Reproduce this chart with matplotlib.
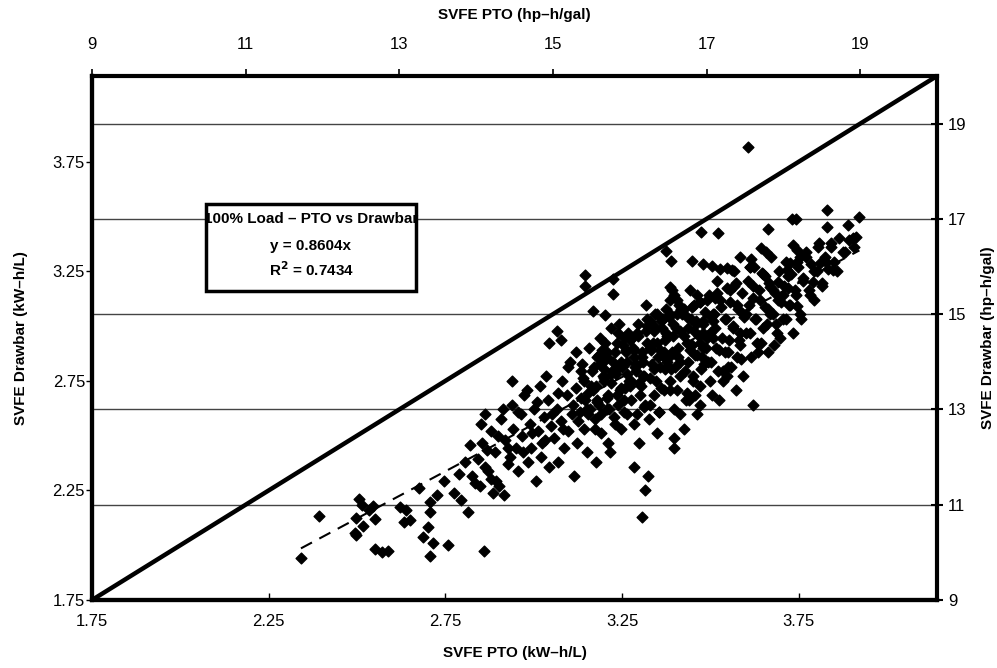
import matplotlib
matplotlib.use("Agg")
import matplotlib.pyplot as plt
from matplotlib.patches import Rectangle
import numpy as np

plt.rcParams['font.family'] = ['Liberation Sans', 'DejaVu Sans']

# SVFE values in hp-h/gal (PTO on x, drawbar on y)
pto_hp = [
    11.72, 11.96, 12.42, 12.44, 12.69, 12.77, 12.85, 12.47, 12.52, 12.60, 12.44, 12.53,
    12.68, 12.66, 13.01, 13.09, 13.06, 13.14, 13.26, 13.31, 13.40, 13.40, 13.38, 13.44,
    13.40, 13.49, 13.58, 13.64, 13.71, 13.80, 13.90, 14.05, 14.10, 13.95, 14.12, 14.20,
    14.26,
    14.02, 14.08, 14.15, 14.20, 14.25, 14.30, 14.33, 14.38, 14.42, 14.47, 14.48, 14.12,
    14.36, 14.44,
    14.52, 14.55, 14.58, 14.60, 14.63, 14.67, 14.70, 14.72, 14.75, 14.78, 14.80, 14.83,
    14.85, 14.88, 14.90, 14.93, 14.95, 14.97,
    15.02, 15.05, 15.07, 15.10, 15.12, 15.15, 15.18, 15.20, 15.22, 15.25, 15.27, 15.30,
    15.32, 15.35, 15.37, 15.40, 15.42, 15.45, 15.47, 15.48, 15.10, 15.30,
    15.42, 15.42, 15.78, 15.78, 15.52, 15.68,
    15.52, 15.55, 15.58, 15.60, 15.62, 15.65, 15.68, 15.70, 15.72, 15.75, 15.78, 15.80,
    15.83, 15.85, 15.88, 15.90, 15.92, 15.95, 15.97, 15.99, 15.56, 15.66, 15.74, 15.86,
    15.94, 15.60, 15.70, 15.82,
    16.02, 16.04, 16.06, 16.08, 16.10, 16.12, 16.15, 16.17, 16.20, 16.22, 16.25, 16.27,
    16.30, 16.32, 16.35, 16.37, 16.40, 16.42, 16.45, 16.47, 16.16, 16.20, 16.05, 16.28,
    16.38, 16.12, 16.33, 16.44, 16.24, 16.08,
    16.52, 16.55, 16.57, 16.60, 16.62, 16.65, 16.67, 16.70, 16.72, 16.75, 16.77, 16.80,
    16.82, 16.85, 16.87, 16.90, 16.92, 16.95, 16.97, 16.99, 16.53, 16.57, 16.47, 16.54,
    16.64, 16.74, 16.84, 16.94, 16.58, 16.88,
    17.02, 17.05, 17.07, 17.10, 17.12, 17.15, 17.18, 17.20, 17.22, 17.25, 17.28, 17.30,
    17.32, 17.35, 17.38, 17.40, 17.42, 17.45, 17.48, 17.08, 17.26, 17.36, 17.16, 17.44,
    16.93, 17.15, 17.61, 16.92,
    17.52, 17.55, 17.58, 17.60, 17.63, 17.66, 17.70, 17.73, 17.76, 17.80, 17.83, 17.86,
    17.90, 17.93, 17.96, 17.54, 17.71, 17.44, 17.57, 17.72, 17.80, 17.80, 17.83, 17.93,
    18.00, 18.03, 18.06, 18.09, 18.12, 18.15, 18.18, 18.22, 18.26, 18.30, 18.35, 18.40,
    18.45, 18.50, 18.55, 18.62, 18.70, 18.80, 18.90,
    18.11, 18.16, 18.57, 18.99, 18.57, 18.84, 18.95, 18.18, 18.22, 18.09, 18.05, 18.48,
    18.64, 18.38, 18.18, 18.06, 16.47, 16.54, 17.27, 17.33, 17.57, 17.07, 16.96, 16.81,
    16.53, 16.57,
    # denser part of the cloud
    15.53, 15.57, 15.61, 15.63, 15.67, 15.71, 15.73, 15.77, 15.81, 15.84, 15.87, 15.89,
    15.93, 15.96, 15.98, 15.55, 15.65, 15.75, 15.85, 15.95,
    16.01, 16.03, 16.07, 16.09, 16.11, 16.14, 16.16, 16.19, 16.21, 16.23, 16.26, 16.29,
    16.31, 16.34, 16.36, 16.39, 16.41, 16.43, 16.46, 16.48, 16.06, 16.18, 16.27, 16.38,
    16.44,
    16.51, 16.53, 16.56, 16.59, 16.61, 16.63, 16.66, 16.68, 16.71, 16.73, 16.76, 16.78,
    16.81, 16.83, 16.86, 16.88, 16.91, 16.93, 16.96, 16.98, 16.55, 16.65, 16.75, 16.85,
    16.95,
    17.01, 17.03, 17.06, 17.09, 17.11, 17.14, 17.16, 17.19, 17.21, 17.24, 17.26, 17.29,
    17.31, 17.34, 17.36, 17.39, 17.41, 17.44, 17.46, 17.49, 17.05, 17.18, 17.28, 17.38,
    17.47,
    17.51, 17.54, 17.57, 17.60, 17.62, 17.65, 17.68, 17.71, 17.73, 17.76, 17.79, 17.81,
    17.84, 17.87, 17.89, 17.92, 17.94, 17.97, 17.99, 17.58, 17.67, 17.78, 17.88,
    18.01, 18.04, 18.07, 18.10, 18.13, 18.16, 18.19, 18.23, 18.26, 18.29, 18.33, 18.36,
    18.40, 18.44, 18.47, 18.50, 18.54, 18.58, 18.62, 18.66, 18.72, 18.78, 18.85, 18.92,
    14.54, 14.61, 14.66, 14.73, 14.79, 14.86, 14.91, 14.99, 15.06, 15.13, 15.19, 15.26,
    15.33, 15.39, 15.46, 15.49, 14.95, 15.05, 14.47,
    13.85, 13.92, 13.98, 14.06, 14.14, 14.22, 14.29, 14.35, 14.41, 13.78,
    # solid black core
    15.36, 15.41, 15.46, 15.51, 15.56, 15.61, 15.66, 15.71, 15.76, 15.81, 15.86, 15.91,
    15.96, 16.01, 16.06, 16.11, 16.16, 16.21, 16.26, 16.31, 16.36, 16.41, 16.46, 16.51,
    16.56, 16.61, 16.66, 16.71, 16.76, 16.81, 16.86, 16.91, 16.96, 17.01, 17.06, 17.11,
    15.44, 15.58, 15.72, 15.88, 16.02, 16.17, 16.32, 16.49, 16.63, 16.78, 16.92, 17.08,
    15.38, 15.64, 15.92, 16.22, 16.52, 16.84, 17.13, 17.24,
]
drawbar_hp = [
    9.88, 10.76, 10.40, 10.36, 10.07, 10.01, 10.03, 11.13, 11.00, 10.88, 10.72, 10.55,
    10.70, 10.98, 10.95, 10.88, 10.63, 10.67, 11.35, 10.32, 11.05, 10.84, 10.53, 10.20,
    9.92, 11.20, 11.50, 10.16, 11.25, 11.10, 10.85, 11.40, 10.03, 11.60, 11.80, 11.55,
    11.50,
    11.95, 12.30, 11.70, 12.55, 12.10, 11.40, 12.80, 12.35, 11.85, 13.10, 12.60, 12.90,
    11.20, 12.00,
    12.20, 11.70, 12.90, 12.45, 13.30, 11.90, 12.70, 12.20, 13.00, 11.50, 12.55, 13.50,
    12.00, 12.85, 12.35, 13.20, 11.80, 12.65,
    12.40, 13.00, 11.90, 12.75, 13.60, 12.20, 13.30, 12.55, 14.00, 12.90, 11.60, 13.45,
    12.30, 12.95, 13.80, 12.60, 13.20, 12.10, 14.30, 13.00, 14.45, 14.20,
    15.83, 15.60, 15.74, 15.43, 15.07, 14.99,
    13.40, 12.80, 14.10, 13.10, 12.50, 13.70, 14.40, 13.00, 12.30, 13.55, 14.00, 12.85,
    13.30, 14.60, 12.60, 13.90, 13.20, 14.25, 12.90, 13.60, 11.90, 13.85, 12.10, 14.80,
    13.45, 14.15, 13.25, 13.75,
    13.20, 14.30, 12.70, 13.80, 14.60, 12.30, 13.50, 14.00, 13.10, 14.90, 12.80, 13.65,
    14.40, 13.30, 12.50, 14.10, 13.90, 14.70, 13.40, 15.10, 10.74, 11.30, 11.80, 14.25,
    12.95, 13.55, 15.00, 14.20, 11.60, 13.95,
    13.60, 14.20, 13.00, 14.70, 13.40, 14.00, 15.10, 12.60, 13.80, 14.40, 13.20, 14.90,
    13.70, 14.15, 12.90, 14.55, 13.50, 14.80, 13.95, 14.30, 15.30, 12.40, 14.60, 13.85,
    15.20, 13.35, 14.65, 14.10, 12.20, 15.40,
    14.00, 14.60, 13.30, 15.00, 14.30, 13.80, 15.30, 14.50, 13.60, 14.90, 14.20, 15.50,
    13.90, 14.70, 13.40, 15.20, 14.45, 14.05, 15.00, 14.85, 13.70, 15.60, 13.20, 14.35,
    16.73, 16.71, 13.10, 13.10,
    14.60, 15.20, 14.10, 15.60, 14.90, 14.40, 15.30, 14.70, 15.80, 14.20, 15.00, 15.50,
    14.80, 15.30, 14.50, 18.50, 16.39, 16.20, 16.00, 15.87, 16.79, 15.11, 15.58, 15.68,
    15.40, 14.90, 15.80, 15.20, 14.60, 15.50, 16.10, 15.00, 15.70, 16.20, 15.40, 15.90,
    16.40, 15.60, 16.10, 16.50, 15.90, 16.30, 16.60,
    17.00, 17.00, 17.19, 17.03, 16.84, 16.88, 16.63, 16.35, 16.20, 16.08, 15.93, 16.08,
    15.93, 15.68, 15.18, 15.55, 16.33, 16.12, 15.97, 15.93, 16.00, 16.02, 16.06, 16.12,
    15.58, 15.41,
    # denser part of the cloud
    13.90, 13.20, 14.50, 12.90, 13.60, 14.20, 13.00, 13.80, 12.70, 14.40, 13.40, 14.00,
    12.95, 13.75, 14.60, 12.60, 14.00, 14.70, 13.10, 14.20,
    13.50, 14.50, 13.90, 12.90, 14.80, 13.30, 14.10, 13.70, 15.20, 14.40, 13.10, 13.95,
    14.65, 13.60, 15.00, 14.25, 13.45, 14.90, 13.85, 14.55, 14.25, 13.05, 14.85, 12.95,
    14.10,
    14.10, 13.40, 14.80, 13.90, 15.30, 14.30, 13.70, 15.00, 14.55, 13.20, 14.00, 15.50,
    14.35, 13.60, 14.85, 14.15, 15.25, 13.85, 14.60, 15.05, 15.50, 12.90, 14.95, 13.30,
    14.30,
    14.50, 15.40, 14.00, 15.00, 14.70, 15.70, 14.25, 15.15, 13.80, 14.90, 15.55, 14.45,
    15.25, 14.75, 15.90, 14.10, 15.10, 14.60, 15.45, 14.95, 13.60, 15.95, 13.90, 15.65,
    13.70,
    15.00, 15.70, 14.60, 15.35, 16.00, 14.90, 15.50, 14.40, 15.85, 15.15, 14.80, 15.65,
    16.20, 15.00, 15.45, 14.60, 15.90, 15.25, 14.90, 16.15, 14.20, 16.30, 14.35,
    15.60, 16.10, 15.20, 15.85, 16.45, 15.40, 16.00, 14.90, 15.75, 16.30, 15.50, 16.05,
    15.30, 15.90, 16.50, 15.65, 16.20, 15.95, 16.40, 16.10, 16.60, 16.30, 16.55, 16.40,
    12.95, 12.10, 13.40, 12.50, 13.15, 12.30, 13.70, 12.90, 13.35, 12.60, 13.90, 13.10,
    12.75, 13.65, 12.90, 13.50, 14.40, 14.65, 13.60,
    11.90, 12.25, 11.45, 12.70, 12.15, 11.25, 12.45, 13.00, 12.20, 11.65,
    # solid black core
    13.25, 13.60, 13.35, 13.80, 13.50, 13.95, 13.65, 14.10, 13.75, 14.20, 13.90, 14.35,
    14.00, 14.45, 14.10, 14.55, 14.20, 14.65, 14.30, 14.75, 14.40, 14.85, 14.45, 14.95,
    14.55, 15.00, 14.65, 15.10, 14.70, 15.15, 14.80, 15.25, 14.85, 15.30, 14.95, 15.35,
    13.00, 13.15, 13.30, 13.45, 13.60, 13.70, 13.85, 14.00, 14.10, 14.25, 14.40, 14.50,
    13.95, 14.25, 14.50, 14.75, 15.00, 15.20, 15.45, 14.20,
]

slope = 0.8604
trend_x = [11.72, 18.99]

hp_ticks = [9, 11, 13, 15, 17, 19]
kwh_ticks = [1.75, 2.25, 2.75, 3.25, 3.75]


def hp2kwh(v):
    return 1.75 + (np.asarray(v) - 9) / 4.6


def kwh2hp(v):
    return 9 + (np.asarray(v) - 1.75) * 4.6


fig = plt.figure(figsize=(9.97, 6.68), dpi=100)
ax = fig.add_axes([92 / 997, 1 - 600 / 668, 845 / 997, 524 / 668])

ax.set_xlim(9, 20)
ax.set_ylim(9, 20)

# horizontal grid lines at the right-axis ticks
for g in hp_ticks[1:]:
    ax.axhline(g, color='#444444', lw=1, zorder=1)

# 1:1 line
ax.plot([9, 20], [9, 20], color='black', lw=3.2, zorder=3)

ax.scatter(pto_hp, drawbar_hp, marker='D', s=30, color='black', zorder=4)

# linear trend through the origin
tx = np.array(trend_x)
ax.plot(tx, slope * tx, color='black', lw=1.5, ls=(0, (6, 4)), zorder=5)

for s in ax.spines.values():
    s.set_linewidth(3)

ax.xaxis.tick_top()
ax.yaxis.tick_right()
ax.set_xticks(hp_ticks)
ax.set_yticks(hp_ticks)
ax.tick_params(axis='x', direction='out', length=5, width=1.2, labelsize=12, pad=12)
ax.tick_params(axis='y', direction='inout', length=8, width=1.5, labelsize=12, pad=4)
ax.xaxis.set_label_position('top')
ax.yaxis.set_label_position('right')
ax.set_xlabel('SVFE PTO (hp\u2013h/gal)', fontsize=11, fontweight='bold', labelpad=13)
ax.set_ylabel('SVFE Drawbar (hp\u2013h/gal)', fontsize=11, fontweight='bold', labelpad=10)

secx = ax.secondary_xaxis('bottom', functions=(hp2kwh, kwh2hp))
secx.set_xticks(kwh_ticks)
secx.set_xticklabels(['%.2f' % t for t in kwh_ticks])
secx.tick_params(direction='in', length=5, width=1, labelsize=12, pad=10)
secx.spines['bottom'].set_linewidth(3)
secx.set_xlabel('SVFE PTO (kW\u2013h/L)', fontsize=11, fontweight='bold', labelpad=12)

secy = ax.secondary_yaxis('left', functions=(hp2kwh, kwh2hp))
secy.set_yticks(kwh_ticks)
secy.set_yticklabels(['%.2f' % t for t in kwh_ticks])
secy.tick_params(direction='out', length=4, width=1, labelsize=12, pad=1)
secy.spines['left'].set_linewidth(3)
secy.set_ylabel('SVFE Drawbar (kW\u2013h/L)', fontsize=11, fontweight='bold', labelpad=18)

# equation box
box = Rectangle((206 / 997, 1 - 291 / 668), 210 / 997, 87 / 668, transform=fig.transFigure,
                facecolor='white', edgecolor='black', lw=2.5, zorder=10)
fig.patches.append(box)
cx = 311 / 997
fig.text(cx, 1 - 219 / 668, '100% Load \u2013 PTO vs Drawbar', ha='center', va='center',
         fontsize=11, fontweight='bold', zorder=11)
fig.text(cx, 1 - 246 / 668, 'y = 0.8604x', ha='center', va='center',
         fontsize=11, fontweight='bold', zorder=11)
fig.text(cx, 1 - 270 / 668, 'R$^{\\mathbf{2}}$ = 0.7434', ha='center', va='center',
         fontsize=11, fontweight='bold', zorder=11)

fig.savefig('out.png', dpi=100)
